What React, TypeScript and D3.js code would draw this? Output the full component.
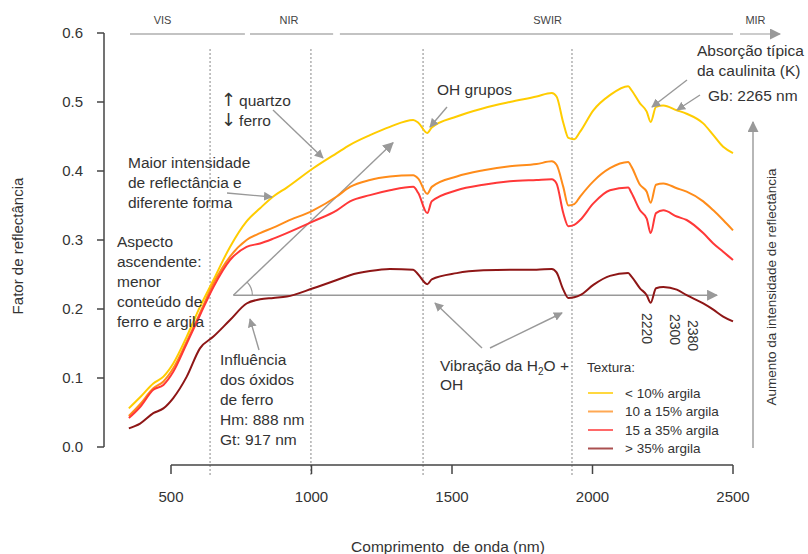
import React from "react";
import * as d3 from "d3";

// ---------- data ----------
const wavelengths = [350, 390, 437, 473, 508, 556, 603, 651, 710, 769, 817, 864, 912, 1006, 1090, 1137, 1208, 1279, 1362, 1380, 1412, 1428, 1517, 1612, 1706, 1801, 1855, 1872, 1896, 1914, 1935, 1956, 2003, 2062, 2127, 2139, 2169, 2193, 2207, 2226, 2252, 2300, 2335, 2394, 2430, 2465, 2500];

const argilaMenor10 = [0.056, 0.072, 0.092, 0.102, 0.121, 0.160, 0.203, 0.242, 0.290, 0.327, 0.346, 0.363, 0.376, 0.404, 0.426, 0.438, 0.452, 0.464, 0.474, 0.470, 0.455, 0.463, 0.479, 0.491, 0.500, 0.508, 0.513, 0.508, 0.470, 0.448, 0.446, 0.457, 0.488, 0.510, 0.523, 0.517, 0.498, 0.486, 0.471, 0.493, 0.495, 0.488, 0.483, 0.469, 0.452, 0.435, 0.426];
const argila10a15 = [0.045, 0.062, 0.085, 0.095, 0.114, 0.153, 0.194, 0.237, 0.276, 0.300, 0.310, 0.318, 0.327, 0.343, 0.363, 0.377, 0.387, 0.392, 0.394, 0.389, 0.367, 0.377, 0.392, 0.401, 0.407, 0.410, 0.414, 0.409, 0.377, 0.350, 0.352, 0.363, 0.385, 0.404, 0.413, 0.406, 0.380, 0.370, 0.354, 0.380, 0.382, 0.375, 0.370, 0.356, 0.343, 0.329, 0.314];
const argila15a35 = [0.042, 0.058, 0.083, 0.090, 0.109, 0.150, 0.191, 0.232, 0.271, 0.290, 0.295, 0.302, 0.310, 0.327, 0.343, 0.356, 0.365, 0.372, 0.377, 0.368, 0.339, 0.356, 0.372, 0.380, 0.385, 0.387, 0.388, 0.382, 0.339, 0.320, 0.322, 0.329, 0.353, 0.372, 0.376, 0.368, 0.343, 0.331, 0.310, 0.339, 0.343, 0.334, 0.329, 0.310, 0.295, 0.283, 0.271];
const argilaMaior35 = [0.027, 0.034, 0.049, 0.056, 0.071, 0.102, 0.143, 0.160, 0.184, 0.208, 0.214, 0.216, 0.218, 0.230, 0.242, 0.249, 0.255, 0.258, 0.257, 0.250, 0.236, 0.243, 0.252, 0.256, 0.257, 0.257, 0.258, 0.253, 0.228, 0.216, 0.217, 0.220, 0.235, 0.248, 0.252, 0.247, 0.230, 0.220, 0.209, 0.230, 0.232, 0.228, 0.220, 0.208, 0.199, 0.189, 0.182];

const seriesNames = ["< 10% argila", "10 a 15% argila", "15 a 35% argila", "> 35% argila"];
const seriesValues = [argilaMenor10, argila10a15, argila15a35, argilaMaior35];
const seriesColors = ["#ffcc00", "#ff8c1a", "#ff3838", "#8e1616"];

const xTicks = [500, 1000, 1500, 2000, 2500];
const yTicks = [0, 0.1, 0.2, 0.3, 0.4, 0.5, 0.6];
const dividers = [639, 998, 1397, 1927];
const regionNames = ["VIS", "NIR", "SWIR", "MIR"];
const regionStarts = [354, 781, 1101, 2525];
const regionEnds = [763, 1077, 2500, 2667];
const regionLabelAt = [470, 920, 1840, 2580];
const bandLabels = ["2220", "2300", "2380"];

// ---------- layout ----------
const W = 808;
const H = 554;
const FONT = "'Liberation Sans', Arial, sans-serif";
const TXT = "#333";
const GRAY = "#999";
const ANN = 15.5;

export default function App() {
  const x = d3.scaleLinear().domain([500, 2500]).range([171, 733]);
  const y = d3.scaleLinear().domain([0, 0.6]).range([447, 33]);
  const line = d3
    .line<number>()
    .x((_, i) => x(wavelengths[i]))
    .y((d) => y(d))
    .curve(d3.curveMonotoneX);

  const multiText = (lines: string[], x0: number, y0: number, dy: number, size = ANN) => (
    <text x={x0} y={y0} fontSize={size} fill={TXT} fontFamily={FONT}>
      {lines.map((l, i) => (
        <tspan key={i} x={x0} y={y0 + i * dy}>
          {l}
        </tspan>
      ))}
    </text>
  );

  const arrow = (x1: number, y1: number, x2: number, y2: number, k: string) => (
    <line key={k} x1={x1} y1={y1} x2={x2} y2={y2} stroke={GRAY} strokeWidth={1.4} markerEnd="url(#ah)" />
  );

  return (
    <svg width={W} height={H} style={{ position: "absolute", left: 0, top: 0, background: "#fff" }}>
      <defs>
        <marker id="ah" viewBox="0 0 10 10" refX="9" refY="5" markerWidth="9" markerHeight="9" markerUnits="userSpaceOnUse" orient="auto">
          <path d="M0,0 L10,5 L0,10 z" fill={GRAY} />
        </marker>
        <marker id="ah2" viewBox="0 0 10 10" refX="9" refY="5" markerWidth="11" markerHeight="11" markerUnits="userSpaceOnUse" orient="auto">
          <path d="M0,0 L10,5 L0,10 z" fill={GRAY} />
        </marker>
      </defs>

      {/* region bars */}
      {regionNames.map((n, i) => (
        <g key={n}>
          <line
            x1={x(regionStarts[i])}
            x2={x(regionEnds[i])}
            y1={34}
            y2={34}
            stroke={i === 3 ? GRAY : "#888"}
            strokeWidth={1.2}
            markerEnd={i === 3 ? "url(#ah2)" : undefined}
          />
          <text x={x(regionLabelAt[i])} y={24} fontSize={11} fill="#444" fontFamily={FONT} textAnchor="middle">
            {n}
          </text>
        </g>
      ))}

      {/* dashed dividers */}
      {dividers.map((d) => (
        <line key={d} x1={x(d)} x2={x(d)} y1={49} y2={477} stroke="#888" strokeWidth={1} strokeDasharray="2,2" />
      ))}

      {/* y axis */}
      <line x1={104} x2={104} y1={y(0.6)} y2={y(0)} stroke="#444" strokeWidth={1.5} />
      {yTicks.map((t) => (
        <g key={t}>
          <line x1={97} x2={104} y1={y(t)} y2={y(t)} stroke="#444" strokeWidth={1.5} />
          <text x={83} y={y(t)} dy="0.35em" textAnchor="end" fontSize={15} fill={TXT} fontFamily={FONT}>
            {t.toFixed(1)}
          </text>
        </g>
      ))}

      {/* x axis */}
      <line x1={x(500)} x2={x(2500)} y1={465} y2={465} stroke="#444" strokeWidth={1.5} />
      {xTicks.map((t) => (
        <g key={t}>
          <line x1={x(t)} x2={x(t)} y1={465} y2={474} stroke="#444" strokeWidth={1.5} />
          <text x={x(t)} y={502} textAnchor="middle" fontSize={15} fill={TXT} fontFamily={FONT}>
            {t}
          </text>
        </g>
      ))}

      {/* axis titles */}
      <text transform="translate(23,246) rotate(-90)" textAnchor="middle" fontSize={15} fill={TXT} fontFamily={FONT}>
        Fator de reflectância
      </text>
      <text x={448} y={552} textAnchor="middle" fontSize={15.5} fill={TXT} fontFamily={FONT} style={{ whiteSpace: "pre" }}>
        Comprimento  de onda (nm)
      </text>

      {/* angle construction */}
      <line x1={x(722)} y1={y(0.22)} x2={x(2443)} y2={y(0.22)} stroke={GRAY} strokeWidth={1.4} markerEnd="url(#ah2)" />
      <line x1={x(722)} y1={y(0.22)} x2={x(1290)} y2={y(0.441)} stroke={GRAY} strokeWidth={1.4} markerEnd="url(#ah2)" />
      <path
        d={(() => {
          const cx = x(722), cy = y(0.22), r = 19;
          const ang = Math.atan2(y(0.441) - cy, x(1290) - cx);
          return `M${cx + r},${cy} A${r},${r} 0 0 0 ${cx + r * Math.cos(ang)},${cy + r * Math.sin(ang)}`;
        })()}
        fill="none"
        stroke={GRAY}
        strokeWidth={1.2}
      />

      {/* curves */}
      {seriesValues.map((vals, i) => (
        <path key={i} d={line(vals) || ""} fill="none" stroke={seriesColors[i]} strokeWidth={2} strokeLinejoin="round" />
      ))}

      {/* annotations */}
      <text x={221} y={106} fontSize={ANN} fill={TXT} fontFamily={FONT}>
        <tspan fontFamily="'DejaVu Sans', sans-serif" fontSize={18}>{"\u2191"}</tspan>
        <tspan dx={3}>quartzo</tspan>
        <tspan x={221} y={126} fontFamily="'DejaVu Sans', sans-serif" fontSize={18}>{"\u2193"}</tspan>
        <tspan dx={3}>ferro</tspan>
      </text>
      {arrow(273, 110, 323, 158, "a1")}
      {multiText(["Maior intensidade", "de reflectância e", "diferente forma"], 128, 168, 20)}
      {arrow(227, 193, 272, 197, "a2")}
      {multiText(["Aspecto", "ascendente:", "menor", "conteúdo de", "ferro e argila"], 117, 247, 20)}
      {multiText(["Influência", "dos óxidos", "de ferro", "Hm: 888 nm", "Gt: 917 nm"], 220, 365, 20)}
      {arrow(259, 350, 250, 319, "a3")}
      {multiText(["OH grupos"], 437, 95, 20)}
      {arrow(447, 107, 430, 127, "a4")}
      {multiText(["Absorção típica", "da caulinita (K)"], 697, 56, 20)}
      {multiText(["Gb: 2265 nm"], 708, 101, 20)}
      {arrow(687, 80, 652, 107, "a5")}
      {arrow(700, 95, 677, 110, "a6")}

      <text x={440} y={371} fontSize={ANN} fill={TXT} fontFamily={FONT}>
        Vibração da H
        <tspan fontSize={10} dy={4}>2</tspan>
        <tspan dy={-4}>O +</tspan>
        <tspan x={440} y={390}>OH</tspan>
      </text>
      {arrow(482, 348, 435, 303, "a7")}
      {arrow(490, 348, 562, 313, "a8")}

      {/* band labels */}
      {bandLabels.map((b, i) => (
        <text
          key={b}
          transform={`translate(${[642, 670, 688][i]},${[313, 314, 320][i]}) rotate(90)`}
          fontSize={14}
          fill={TXT}
          fontFamily={FONT}
        >
          {b}
        </text>
      ))}

      {/* right arrow + label */}
      <line x1={753} y1={448} x2={753} y2={122} stroke={GRAY} strokeWidth={1.4} markerEnd="url(#ah2)" />
      <text transform="translate(776,287) rotate(-90)" textAnchor="middle" fontSize={13.5} fill={TXT} fontFamily={FONT}>
        Aumento da intensidade de reflectância
      </text>

      {/* legend */}
      <text x={587} y={372} fontSize={13.5} fill={TXT} fontFamily={FONT}>
        Textura:
      </text>
      {seriesNames.map((n, i) => (
        <g key={n}>
          <line x1={588} x2={613} y1={393 + i * 18.5} y2={393 + i * 18.5} stroke={seriesColors[i]} strokeWidth={2} opacity={0.75} />
          <text x={625} y={393 + i * 18.5} dy="0.35em" fontSize={13.5} fill={TXT} fontFamily={FONT}>
            {n}
          </text>
        </g>
      ))}
    </svg>
  );
}
